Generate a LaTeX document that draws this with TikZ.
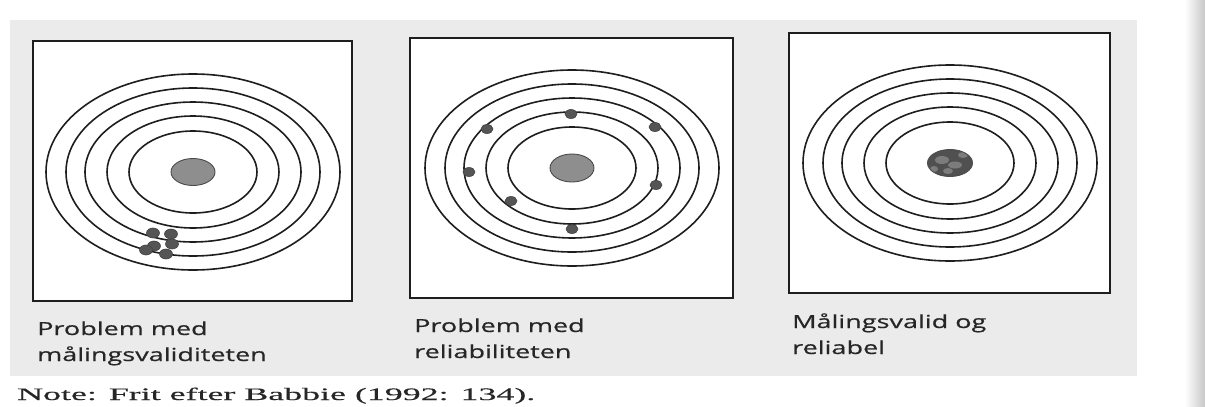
\documentclass[tikz,border=0pt]{standalone}
\usepackage{fontspec}
\newfontfamily\labfont[FakeStretch=1.5,FakeBold=0.6]{Open Sans}
\newfontfamily\notefont[FakeStretch=2.05,FakeBold=0.4]{Liberation Serif}
\definecolor{scan}{HTML}{EBEBEB}
\definecolor{ink}{HTML}{1E1E1E}
\definecolor{txt}{HTML}{262626}
\definecolor{diskgray}{HTML}{8E8E8E}
\definecolor{dotgray}{HTML}{555555}
\definecolor{mottle}{HTML}{505050}
\definecolor{mottlelight}{HTML}{7C7C7C}
\tikzset{
  boxst/.style={draw=ink, line width=1.6pt, fill=white},
  ring/.style={draw=ink, line width=1.6pt},
  diskst/.style={draw=ink!80, line width=0.9pt, fill=diskgray},
  dotst/.style={draw=ink!85, line width=0.6pt, fill=dotgray},
  lab/.style={font=\labfont\fontsize{18}{26}\selectfont, inner sep=0pt, text=txt, anchor=base west},
  notest/.style={font=\notefont\fontsize{17.5}{20}\selectfont, inner sep=0pt, text=txt, anchor=base west}
}
\newcommand\mytarget[1]{%
  \foreach \rx/\ry in {147/98,127/84,108/70,86/56,64/41}
    \draw[ring] (#1) ellipse [x radius=\rx, y radius=\ry];
}
\begin{document}
\begin{tikzpicture}[x=1pt,y=-1pt]
\useasboundingbox (0,0) rectangle (1205,407);
\fill[white] (0,0) rectangle (1205,407);
\fill[scan] (10,20) rectangle (1137,376);
\shade[left color=white, right color=black!22] (1185,0) rectangle (1205,407);

% panel frames
\draw[boxst] (33,41) rectangle (352,301);
\draw[boxst] (410,38) rectangle (733,298);
\draw[boxst] (789,33) rectangle (1110,293);

\coordinate (c1) at (193,172);
\coordinate (c2) at (572,168);
\coordinate (c3) at (950,163);

\mytarget{c1}
\mytarget{c2}
\mytarget{c3}

% centre disks
\draw[diskst] (c1) ellipse [x radius=22, y radius=13.5];
\draw[diskst] (c2) ellipse [x radius=22, y radius=14];
\begin{scope}
  \clip (c3) ellipse [x radius=22.5, y radius=13.5];
  \fill[mottle] (c3) ellipse [x radius=22.5, y radius=13.5];
  \fill[mottlelight] ([shift={(-8,-3)}]c3) ellipse [x radius=7, y radius=4];
  \fill[mottlelight] ([shift={(5,2)}]c3) ellipse [x radius=7, y radius=3.5];
  \fill[mottlelight] ([shift={(-2,8)}]c3) ellipse [x radius=5, y radius=3];
  \fill[mottlelight] ([shift={(13,-8)}]c3) ellipse [x radius=5, y radius=3];
  \fill[mottlelight] ([shift={(-16,6)}]c3) ellipse [x radius=4, y radius=3];
\end{scope}
\draw[draw=ink!80, line width=0.9pt] (c3) ellipse [x radius=22.5, y radius=13.5];

% panel 1 shots (clustered, off centre)
\foreach \p in {(153,233),(171,234),(172,244),(154,246),(146,250),(166,254)}
  \draw[dotst] \p ellipse [x radius=6.5, y radius=5];

% panel 2 shots (scattered)
\foreach \p in {(571,114),(487,129),(655,127),(469,172),(656,185),(511,201),(572,229)}
  \draw[dotst] \p ellipse [x radius=6, y radius=4.5];

% labels
\node[lab] (l1a) at (37,335) {Problem med};
\node[lab] (l1b) at (37,361) {målingsvaliditeten};
\node[lab] (l2a) at (414,332) {Problem med};
\node[lab] (l2b) at (414,358) {reliabiliteten};
\node[lab] (l3a) at (792,328) {Målingsvalid og};
\node[lab] (l3b) at (792,354) {reliabel};
\node[notest] (note) at (17,400) {Note: Frit efter Babbie (1992: 134).};
\end{tikzpicture}
\end{document}
